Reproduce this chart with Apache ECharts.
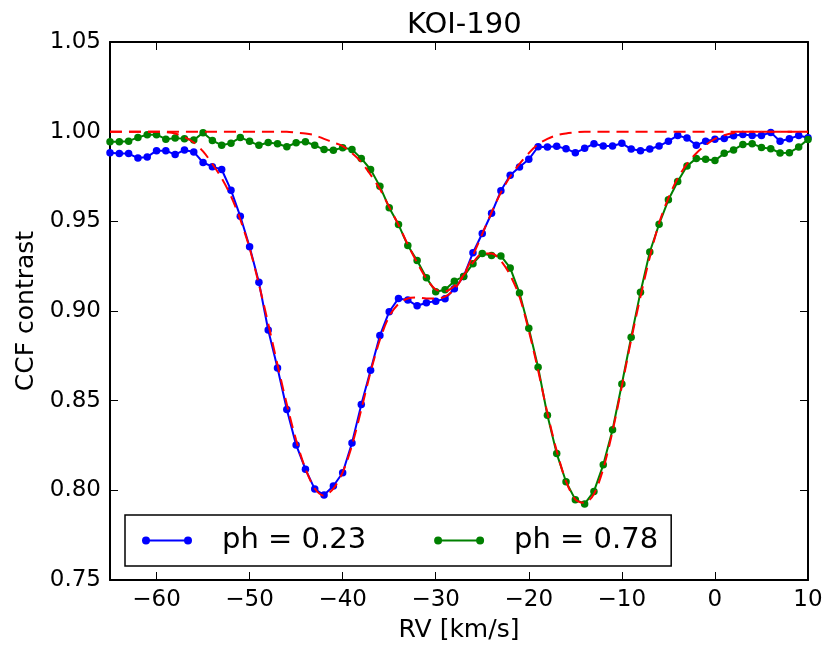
<!DOCTYPE html>
<html>
<head>
<meta charset="utf-8">
<script src="https://cdn.jsdelivr.net/npm/echarts@6/dist/echarts.min.js"></script>
<style>
html,body{margin:0;padding:0;background:#fff;}
#chart{width:826px;height:648px;}
</style>
</head>
<body>
<div id="chart"></div>
<script>
// RV grid (km/s)
var rv = [];
for (var v = -65; v <= 10; v++) rv.push(v);

var titleText = 'KOI-190';
var xLabel = 'RV [km/s]';
var yLabel = 'CCF contrast';
var seriesNames = ['ph = 0.23', 'ph = 0.78'];

// Observed CCF, phase 0.23 (blue)
var ccf023 = [
0.9883,0.9878,0.9878,0.9853,0.9859,0.9894,0.9894,0.9872,0.9898,0.9887,
0.9828,0.9805,0.9789,0.9674,0.9528,0.9358,0.9160,0.8894,0.8682,0.8451,
0.8253,0.8118,0.8007,0.7974,0.8024,0.8098,0.8264,0.8478,0.8669,0.8863,
0.8996,0.9070,0.9061,0.9029,0.9046,0.9055,0.9068,0.9124,0.9193,0.9325,
0.9432,0.9545,0.9670,0.9757,0.9803,0.9846,0.9916,0.9914,0.9918,0.9905,
0.9882,0.9907,0.9933,0.9920,0.9920,0.9935,0.9903,0.9894,0.9903,0.9920,
0.9947,0.9979,0.9964,0.9924,0.9947,0.9958,0.9962,0.9977,0.9984,0.9979,
0.9979,0.9996,0.9947,0.9960,0.9979,0.9966
];

// Observed CCF, phase 0.78 (green)
var ccf078 = [
0.9944,0.9944,0.9947,0.9968,0.9983,0.9983,0.9958,0.9964,0.9960,0.9953,
0.9994,0.9951,0.9924,0.9936,0.9968,0.9946,0.9924,0.9940,0.9933,0.9916,
0.9938,0.9944,0.9924,0.9900,0.9896,0.9911,0.9900,0.9851,0.9789,0.9695,
0.9576,0.9482,0.9365,0.9282,0.9185,0.9107,0.9118,0.9166,0.9193,0.9264,
0.9321,0.9310,0.9307,0.9240,0.9101,0.8904,0.8686,0.8419,0.8205,0.8048,
0.7948,0.7924,0.7994,0.8142,0.8338,0.8593,0.8854,0.9105,0.9329,0.9484,
0.9620,0.9722,0.9809,0.9851,0.9846,0.9839,0.9879,0.9898,0.9929,0.9933,
0.9912,0.9905,0.9881,0.9883,0.9914,0.9957
];

// Fitted model, phase 0.23 (red dashed)
var fit023 = [
1.0,1.0,1.0,1.0,1.0,1.0,0.9998,0.999,0.997,0.994,
0.989,0.982,0.974,0.964,0.951,0.935,0.915,0.893,0.870,0.848,
0.828,0.812,0.801,0.797,0.801,0.810,0.825,0.845,0.866,0.884,
0.897,0.904,0.907,0.9075,0.907,0.907,0.908,0.912,0.920,0.931,
0.943,0.955,0.966,0.975,0.982,0.988,0.993,0.996,0.998,0.999,
0.9996,1.0,1.0,1.0,1.0,1.0,1.0,1.0,1.0,1.0,
1.0,1.0,1.0,1.0,1.0,1.0,1.0,1.0,1.0,1.0,
1.0,1.0,1.0,1.0,1.0,1.0
];

// Fitted model, phase 0.78 (red dashed)
var fit078 = [
1.0,1.0,1.0,1.0,1.0,1.0,1.0,1.0,1.0,1.0,
1.0,1.0,1.0,1.0,1.0,1.0,1.0,1.0,1.0,1.0,
0.9995,0.999,0.998,0.996,0.994,0.992,0.988,0.983,0.976,0.968,
0.958,0.948,0.937,0.927,0.918,0.912,0.911,0.914,0.920,0.927,
0.932,0.932,0.928,0.920,0.908,0.889,0.867,0.843,0.822,0.805,
0.795,0.793,0.798,0.812,0.833,0.858,0.884,0.908,0.930,0.949,
0.963,0.974,0.982,0.988,0.9925,0.996,0.998,0.9993,1.0,1.0,
1.0,1.0,1.0,1.0,1.0,1.0
];

var yTicks = [0.75, 0.80, 0.85, 0.90, 0.95, 1.00, 1.05];

function pairs(ys) { return rv.map(function (x, i) { return [x, ys[i]]; }); }

var FONT = 'DejaVu Sans';
var legendIcon = 'path://M0,8A8,8 0 1,1 16,8A8,8 0 1,1 0,8Z M84,8A8,8 0 1,1 100,8A8,8 0 1,1 84,8Z M8,6L92,6L92,10L8,10Z';

function xFmt(v) {
  if (Math.round(v) % 10 !== 0) return '';
  return v < 0 ? '\u2212' + Math.abs(v) : String(v);
}

var axisLineStyle = { color: '#000', width: 2 };
var tickStyle = { show: true, inside: true, length: 8, lineStyle: { color: '#000', width: 1 } };

var chart = echarts.init(document.getElementById('chart'), null, { renderer: 'canvas' });
chart.setOption({
  animation: false,
  backgroundColor: '#fff',
  title: {
    text: titleText,
    left: 402, top: 6,
    textStyle: { fontFamily: FONT, fontSize: 29, fontWeight: 'normal', color: '#000' }
  },
  grid: { left: 110, right: 18, top: 42, bottom: 65, containLabel: false },
  legend: {
    data: [
      { name: seriesNames[0], icon: legendIcon },
      { name: seriesNames[1], icon: legendIcon }
    ],
    left: 125, top: 515,
    itemWidth: 50, itemHeight: 8,
    itemGap: 68,
    padding: [11, 13, 11, 17],
    borderColor: '#000', borderWidth: 1.5, borderRadius: 0,
    backgroundColor: '#fff',
    selectedMode: false,
    textStyle: { fontFamily: FONT, fontSize: 29, color: '#000', padding: [0, 0, 0, 25] }
  },
  xAxis: [
    {
      type: 'value', min: -65, max: 10, splitNumber: 7, position: 'bottom',
      name: xLabel, nameLocation: 'middle', nameGap: 38,
      nameTextStyle: { fontFamily: FONT, fontSize: 25, color: '#000' },
      axisLine: { show: true, onZero: false, lineStyle: axisLineStyle },
      axisTick: tickStyle,
      axisLabel: { fontFamily: FONT, fontSize: 23, color: '#000', margin: 9, formatter: xFmt, showMinLabel: false },
      splitLine: { show: false }
    },
    {
      type: 'value', min: -65, max: 10, splitNumber: 7, position: 'top',
      axisLine: { show: true, onZero: false, lineStyle: axisLineStyle },
      axisTick: tickStyle,
      axisLabel: { show: false },
      splitLine: { show: false }
    }
  ],
  yAxis: [
    {
      type: 'value', min: yTicks[0], max: yTicks[yTicks.length - 1], interval: 0.05, position: 'left',
      name: yLabel, nameLocation: 'middle', nameGap: 65, nameRotate: 90,
      nameTextStyle: { fontFamily: FONT, fontSize: 25, color: '#000' },
      axisLine: { show: true, onZero: false, lineStyle: axisLineStyle },
      axisTick: tickStyle,
      axisLabel: { fontFamily: FONT, fontSize: 23, color: '#000', margin: 9, formatter: function (v) { return v.toFixed(2); } },
      splitLine: { show: false }
    },
    {
      type: 'value', min: yTicks[0], max: yTicks[yTicks.length - 1], interval: 0.05, position: 'right',
      axisLine: { show: true, onZero: false, lineStyle: axisLineStyle },
      axisTick: tickStyle,
      axisLabel: { show: false },
      splitLine: { show: false }
    }
  ],
  series: [
    {
      name: seriesNames[0], type: 'line', data: pairs(ccf023),
      xAxisIndex: 0, yAxisIndex: 0,
      color: '#0000ff',
      lineStyle: { color: '#0000ff', width: 2 },
      itemStyle: { color: '#0000ff' },
      symbol: 'circle', symbolSize: 7.5, showAllSymbol: true, z: 2
    },
    {
      name: seriesNames[1], type: 'line', data: pairs(ccf078),
      xAxisIndex: 0, yAxisIndex: 0,
      color: '#008000',
      lineStyle: { color: '#008000', width: 2 },
      itemStyle: { color: '#008000' },
      symbol: 'circle', symbolSize: 7.5, showAllSymbol: true, z: 3
    },
    {
      name: 'fit 0.23', type: 'line', data: pairs(fit023),
      xAxisIndex: 0, yAxisIndex: 0,
      lineStyle: { color: '#ff0000', width: 2, type: [12, 7] },
      symbol: 'none', smooth: 0.3, z: 4
    },
    {
      name: 'fit 0.78', type: 'line', data: pairs(fit078),
      xAxisIndex: 0, yAxisIndex: 0,
      lineStyle: { color: '#ff0000', width: 2, type: [12, 7] },
      symbol: 'none', smooth: 0.3, z: 4
    }
  ]
});
</script>
</body>
</html>
